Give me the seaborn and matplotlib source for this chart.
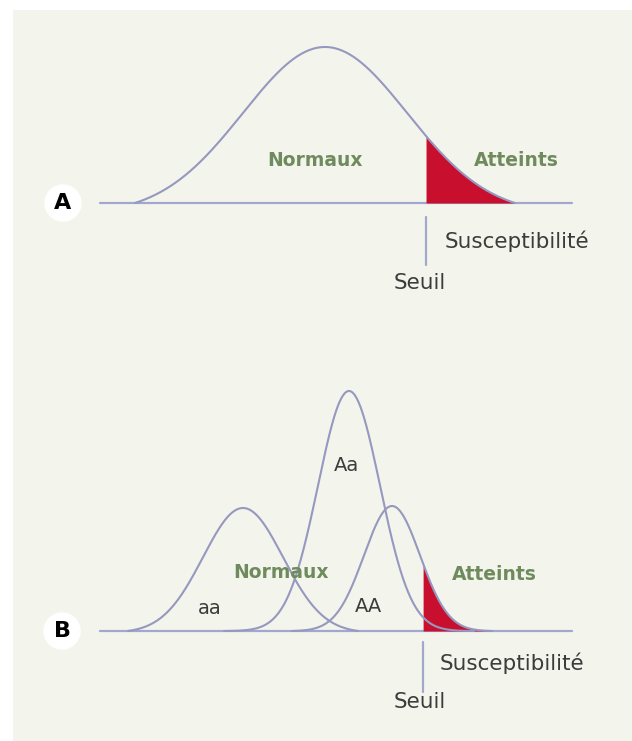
import numpy as np
import seaborn as sns
import matplotlib.pyplot as plt
from matplotlib.patches import Circle

sns.set_style("white")
plt.rcParams["font.family"] = ["DejaVu Sans"]

# A : une seule distribution de susceptibilité
a_mean, a_sd, a_peak, a_span = 325, 82, 156, 190
seuil_a = 426

# B : trois génotypes
genotypes = ["aa", "Aa", "AA"]
b_means = [243, 349, 392]
b_sds = [40, 31, 28]
b_peaks = [123, 240, 125]
b_spans = [115, 125, 100]
seuil_b = 423

line_col = "#9698bf"
base_col = "#a2a7d0"
red = "#c8102e"
green = "#6f8b5d"
dark = "#3c3c3c"


def bell(m, s, h, span, n=300):
    x = np.linspace(m - span, m + span, n)
    g = np.exp(-(x - m) ** 2 / (2 * s ** 2))
    e = np.exp(-span ** 2 / (2 * s ** 2))
    return x, np.clip(h * (g - e) / (1 - e), 0, None)


fig = plt.figure(figsize=(6.32, 7.41), dpi=100)
fig.patch.set_facecolor("white")
H = 741.0
bg = fig.add_axes([13 / 632, 0, 619 / 632, 731 / H])
bg.set_facecolor("#f3f5ec")
bg.set_xticks([])
bg.set_yticks([])
for sp in bg.spines.values():
    sp.set_visible(False)

# axes positioned so that y=0 sits on each baseline
axA = fig.add_axes([0, 1 - 370 / H, 1, 360 / H])
axA.set_xlim(0, 632)
axA.set_ylim(203 - 370, 203 - 10)
axB = fig.add_axes([0, 0, 1, 371 / H])
axB.set_xlim(0, 632)
axB.set_ylim(631 - 741, 631 - 370)
for ax in (axA, axB):
    ax.patch.set_alpha(0)
    ax.set_xticks([])
    ax.set_yticks([])
    for sp in ax.spines.values():
        sp.set_visible(False)
    ax.plot([100, 572], [0, 0], color=base_col, lw=1.6, zorder=1)

# --- A
xa, ya = bell(a_mean, a_sd, a_peak, a_span)
sns.lineplot(x=xa, y=ya, ax=axA, color=line_col, lw=1.5, zorder=3)
m = xa >= seuil_a
axA.fill_between(xa[m], 0, ya[m], color=red, lw=0, zorder=2)
axA.plot([seuil_a, seuil_a], [-14, -62], color=base_col, lw=1.6)
axA.text(315, 203 - 160, "Normaux", color=green, fontsize=13.5, fontweight="bold",
         ha="center", va="center")
axA.text(516, 203 - 160, "Atteints", color=green, fontsize=13.5, fontweight="bold",
         ha="center", va="center")
axA.text(445, 203 - 241, "Susceptibilité", color=dark, fontsize=15.5, ha="left", va="center")
axA.text(394, 203 - 283, "Seuil", color=dark, fontsize=15.5, ha="left", va="center")
axA.add_patch(Circle((63, 0), 18, color="white", zorder=4))
axA.text(63, 0, "A", fontsize=16, fontweight="bold", color="black", ha="center",
         va="center", zorder=5)

# --- B
curves = []
for g, mu, sd, pk, sp in zip(genotypes, b_means, b_sds, b_peaks, b_spans):
    xb, yb = bell(mu, sd, pk, sp)
    curves.append((xb, yb))
    sns.lineplot(x=xb, y=yb, ax=axB, color=line_col, lw=1.5, zorder=3)
xb, yb = curves[2]
m = xb >= seuil_b
axB.fill_between(xb[m], 0, yb[m], color=red, lw=0, zorder=2)
axB.plot([seuil_b, seuil_b], [-11, -61], color=base_col, lw=1.6)
label_pos = [(210, 631 - 608), (346, 631 - 465), (368, 631 - 607)]
for g, (lx, ly) in zip(genotypes, label_pos):
    axB.text(lx, ly, g, color=dark, fontsize=14, ha="center", va="center", zorder=5)
axB.text(281, 631 - 572, "Normaux", color=green, fontsize=13.5, fontweight="bold",
         ha="center", va="center", zorder=5)
axB.text(494, 631 - 575, "Atteints", color=green, fontsize=13.5, fontweight="bold",
         ha="center", va="center")
axB.text(440, 631 - 663, "Susceptibilité", color=dark, fontsize=15.5, ha="left", va="center")
axB.text(394, 631 - 702, "Seuil", color=dark, fontsize=15.5, ha="left", va="center")
axB.add_patch(Circle((62, 0), 18, color="white", zorder=4))
axB.text(62, 0, "B", fontsize=16, fontweight="bold", color="black", ha="center",
         va="center", zorder=5)

fig.savefig("out.png", dpi=100, facecolor=fig.get_facecolor())
